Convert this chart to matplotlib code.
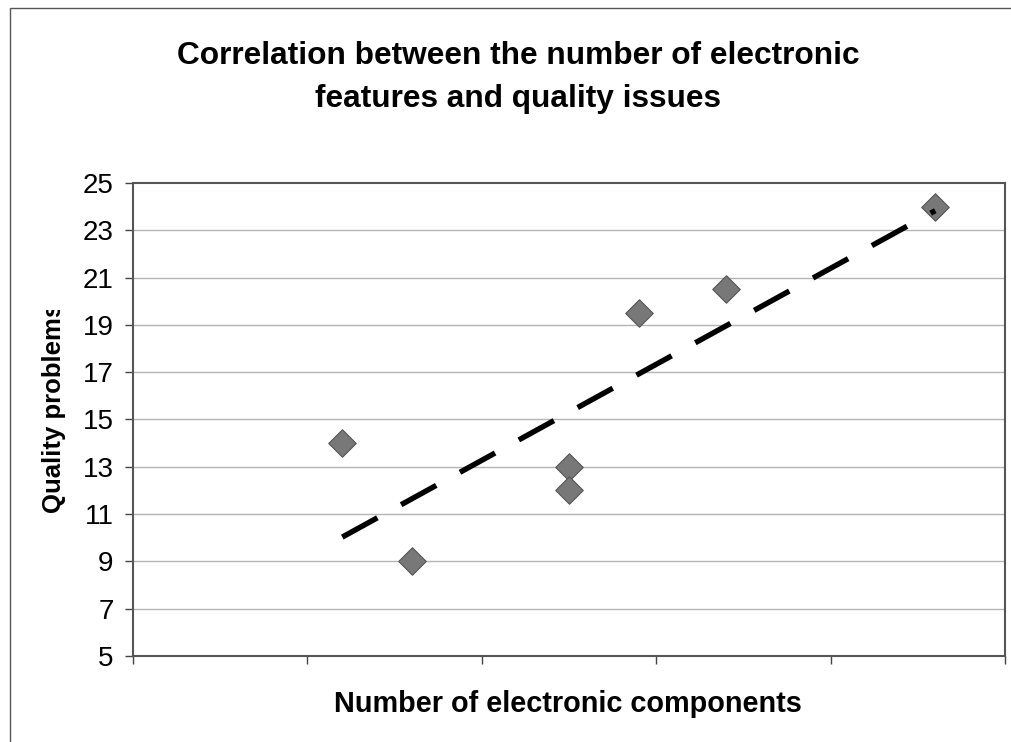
import numpy as np
import matplotlib.pyplot as plt
from matplotlib.patches import Rectangle
from matplotlib.transforms import Bbox

plt.rcParams['font.family'] = ['Liberation Sans', 'DejaVu Sans']

# data (x axis has no labels, units are relative)
components = [1.2, 1.6, 2.5, 2.5, 2.9, 3.4, 4.6]
problems = [14, 9, 13, 12, 19.5, 20.5, 24]
y_ticks = [5, 7, 9, 11, 13, 15, 17, 19, 21, 23, 25]
x_ticks = [0, 1, 2, 3, 4, 5]

W, H = 1012, 742
fig = plt.figure(figsize=(W / 100, H / 100), dpi=100)
ax = fig.add_axes([133 / W, 1 - 656 / H, (1005 - 133) / W, (656 - 183) / H])

# outer chart frame
fig.patches.append(Rectangle((10 / W, -0.1), 1.2, 1 - 8 / H + 0.1,
                             transform=fig.transFigure, fill=False,
                             edgecolor='#555555', linewidth=1))

for y in y_ticks[1:-1]:
    ax.axhline(y, color='#b4b4b4', linewidth=1, zorder=0)

ax.scatter(components, problems, marker='D', s=14 ** 2, color='#787878',
           edgecolors='#555555', linewidths=0.8, zorder=3)

# linear trend line
k, b = np.polyfit(components, problems, 1)
xs = np.array([min(components), max(components)])
ax.plot(xs, k * xs + b, color='black', linewidth=3.9, dashes=(7.4, 5.0),
        dash_capstyle='butt', zorder=4)

ax.set_xlim(0, 5)
ax.set_ylim(5, 25)
ax.set_xticks(x_ticks)
ax.set_xticklabels([])
ax.set_yticks(y_ticks)
ax.tick_params(axis='both', direction='out', length=6, width=1, color='#444444')
ax.tick_params(axis='y', labelsize=20, pad=8)
for s in ax.spines.values():
    s.set_color('#555555')
    s.set_linewidth(1.5)

fig.text(518 / W, 1 - 64 / H, 'Correlation between the number of electronic',
         ha='center', va='baseline', fontsize=22.8, fontweight='bold')
fig.text(518 / W, 1 - 107 / H, 'features and quality issues',
         ha='center', va='baseline', fontsize=22.8, fontweight='bold')
fig.text(568 / W, 1 - 712 / H, 'Number of electronic components', ha='center', va='baseline',
         fontsize=20.8, fontweight='bold')
yl = fig.text(54 / W, 1 - 513 / H, 'Quality problems', ha='center', va='bottom', rotation=90,
              fontsize=18.5, fontweight='bold')
yl.set_clip_box(Bbox.from_extents(0, 0, W, H - 310))
yl.set_clip_on(True)

fig.savefig('out.png', dpi=100)
